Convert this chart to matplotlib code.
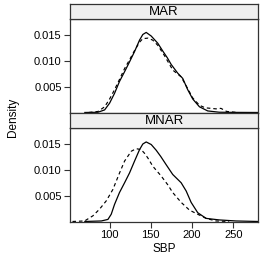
import matplotlib
matplotlib.use("Agg")
import matplotlib.pyplot as plt

# ---- data ----
panels = ["MAR", "MNAR"]

mar_obs_x = [70, 85.8, 94, 100, 106, 112, 118.2, 124.2, 130.3, 136.3, 140.3, 144.4, 150.5,
             154.5, 158.5, 164.5, 170, 174.7, 182.7, 188.7, 194.8, 200.9, 209, 219, 233, 250, 280]
mar_obs_y = [0.0, 0.00004, 0.0005, 0.0018, 0.0037, 0.0060, 0.0079, 0.0098, 0.0118, 0.0140,
             0.0151, 0.0155, 0.0148, 0.0141, 0.0134, 0.0119, 0.0106, 0.0093, 0.0076, 0.0066,
             0.0044, 0.0026, 0.0011, 0.0003, 0.00005, 0.00002, 0.0]

mar_imp_x = [75, 86, 94, 100, 106, 112, 118.2, 124.2, 130.3, 136.3, 140.3, 146.7, 152.4,
             158.5, 166.6, 176.7, 186.8, 194.8, 200.9, 209, 216, 223, 229, 235, 242, 255]
mar_imp_y = [0.0, 0.0002, 0.0011, 0.0026, 0.0044, 0.0064, 0.0085, 0.0102, 0.0120, 0.0136,
             0.0143, 0.0144, 0.0140, 0.0130, 0.0110, 0.0082, 0.0069, 0.0046, 0.0028, 0.0014,
             0.0009, 0.0008, 0.0007, 0.0008, 0.0002, 0.0]

mnar_obs_x = [70, 90, 98, 102, 106, 112, 118.2, 124.2, 130.3, 136.3, 140.3, 144.4, 150.5,
              156.5, 162, 168.6, 176.6, 186.8, 192.9, 198.9, 206.9, 217.1, 233.2, 253.4, 280]
mnar_obs_y = [0.0, 0.0001, 0.0004, 0.0014, 0.0033, 0.0056, 0.0075, 0.0094, 0.0117, 0.0139,
              0.0150, 0.0154, 0.0149, 0.0138, 0.0126, 0.0110, 0.0091, 0.0075, 0.0059, 0.0037,
              0.0017, 0.0006, 0.0003, 0.0001, 0.0]

mnar_imp_x = [55, 69.7, 79.8, 87.9, 96, 104, 112.1, 118.2, 126.3, 132.3, 138.4, 142.4, 146.4,
              152.4, 162.6, 170.6, 176.6, 186.8, 196.9, 206.9, 217.1, 229, 245]
mnar_imp_y = [0.0, 0.0001, 0.0011, 0.0024, 0.0040, 0.0062, 0.0094, 0.0117, 0.0136, 0.0141,
              0.0139, 0.0132, 0.0123, 0.0107, 0.0088, 0.0071, 0.0056, 0.0037, 0.0022, 0.0014,
              0.0006, 0.0001, 0.0]

y_ticks = [0.005, 0.010, 0.015]
y_tick_labels = ["0.005", "0.010", "0.015"]
x_ticks = [100, 150, 200, 250]
x_tick_labels = ["100", "150", "200", "250"]

series = {
    "MAR": [(mar_obs_x, mar_obs_y, "-"), (mar_imp_x, mar_imp_y, "--")],
    "MNAR": [(mnar_obs_x, mnar_obs_y, "-"), (mnar_imp_x, mnar_imp_y, "--")],
}

# ---- layout ----
W, H = 272, 263
plt.rcParams["font.family"] = ["Liberation Sans", "DejaVu Sans"]
fig = plt.figure(figsize=(W / 100, H / 100), dpi=100)

left_px, right_px = 70, 258
layout = {  # (strip_top, strip_bottom, panel_bottom)
    "MAR": (4.3, 19, 113),
    "MNAR": (113, 128, 222),
}
frame_col = "#333333"
xlim = (52, 280)
ylim = (-0.0001, 0.0181)

for i, name in enumerate(panels):
    st, sb, pb = layout[name]
    l = left_px / W
    w = (right_px - left_px) / W
    ax = fig.add_axes([l, 1 - pb / H, w, (pb - sb) / H])
    for xs, ys, ls in series[name]:
        if ls == "--":
            ax.plot(xs, ys, color="black", lw=0.85, linestyle=(0, (3, 2.5)),
                    solid_joinstyle="round")
        else:
            ax.plot(xs, ys, color="black", lw=0.9, solid_joinstyle="round")
    ax.set_xlim(*xlim)
    ax.set_ylim(*ylim)
    ax.set_yticks(y_ticks)
    ax.set_yticklabels(y_tick_labels)
    ax.tick_params(axis="y", direction="out", length=4, width=0.8, color=frame_col,
                   labelsize=8, pad=2)
    if name == "MNAR":
        ax.set_xticks(x_ticks)
        ax.set_xticklabels(x_tick_labels)
        ax.tick_params(axis="x", direction="out", length=4, width=0.8, color=frame_col,
                       labelsize=8, pad=2)
        ax.set_xlabel("SBP", fontsize=8.5, labelpad=2)
    else:
        ax.set_xticks([])
    for sp in ax.spines.values():
        sp.set_color(frame_col)
        sp.set_linewidth(0.9)
    sx = fig.add_axes([l, 1 - sb / H, w, (sb - st) / H])
    sx.set_facecolor("#efefef")
    sx.set_xticks([])
    sx.set_yticks([])
    for sp in sx.spines.values():
        sp.set_color(frame_col)
        sp.set_linewidth(0.9)
    sx.text(0.5, 0.45, name, ha="center", va="center", fontsize=9.5, transform=sx.transAxes)

fig.text(13 / W, 1 - 117 / H, "Density", rotation=90, ha="center", va="center", fontsize=8.5)

fig.savefig("out.png", dpi=100)
